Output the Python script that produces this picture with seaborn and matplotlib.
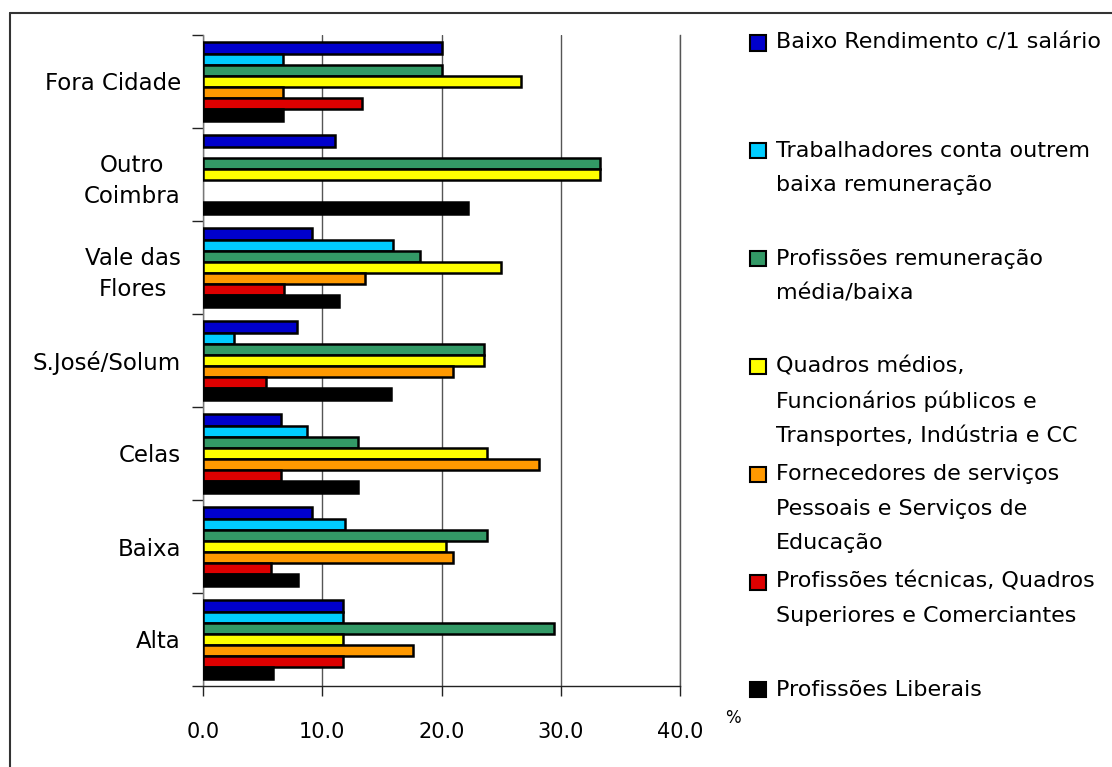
import numpy as np
import pandas as pd
import matplotlib
matplotlib.use("Agg")
import matplotlib.pyplot as plt
from matplotlib.patches import Rectangle
from matplotlib.lines import Line2D
import seaborn as sns

# Zones (top to bottom) and occupational groups
zones = ["Fora Cidade", "Outro Coimbra", "Vale das Flores", "S.José/Solum",
         "Celas", "Baixa", "Alta"]
zone_labels = ["Fora Cidade", "Outro\nCoimbra", "Vale das\nFlores", "S.José/Solum",
               "Celas", "Baixa", "Alta"]

groups = [
    "Baixo Rendimento c/1 salário",
    "Trabalhadores conta outrem\nbaixa remuneração",
    "Profissões remuneração\nmédia/baixa",
    "Quadros médios,\nFuncionários públicos e\nTransportes, Indústria e CC",
    "Fornecedores de serviços\nPessoais e Serviços de\nEducação",
    "Profissões técnicas, Quadros\nSuperiores e Comerciantes",
    "Profissões Liberais",
]

baixo_rendimento = [20.0, 11.1, 9.1, 7.9, 6.5, 9.1, 11.7]
trab_conta_outrem = [6.7, 0.0, 15.9, 2.6, 8.7, 11.9, 11.7]
remuneracao_media = [20.0, 33.3, 18.2, 23.6, 13.0, 23.8, 29.4]
quadros_medios = [26.7, 33.3, 25.0, 23.6, 23.8, 20.4, 11.7]
fornecedores = [6.7, 0.0, 13.6, 21.0, 28.2, 21.0, 17.6]
tecnicas = [13.3, 0.0, 6.8, 5.3, 6.5, 5.7, 11.7]
liberais = [6.7, 22.2, 11.4, 15.8, 13.0, 8.0, 5.9]

series = [baixo_rendimento, trab_conta_outrem, remuneracao_media,
          quadros_medios, fornecedores, tecnicas, liberais]

colors = ["#0000CC", "#00CCFF", "#339966", "#FFFF00", "#FF9900", "#DD0000", "#000000"]

x_ticks = [0, 10, 20, 30, 40]
x_ticklabels = ["0.0", "10.0", "20.0", "30.0", "40.0"]

rows = []
for g, vals in zip(groups, series):
    for z, v in zip(zones, vals):
        rows.append({"zona": z, "grupo": g, "pct": v})
df = pd.DataFrame(rows)
# empty cells are left without a bar
df["pct"] = df["pct"].replace(0.0, np.nan)

sns.set_theme(style="white")
plt.rcParams["font.family"] = ["DejaVu Sans"]
plt.rcParams["text.color"] = "black"
plt.rcParams["xtick.color"] = "black"
plt.rcParams["ytick.color"] = "black"
plt.rcParams["axes.labelcolor"] = "black"

W, H = 1112, 767
fig = plt.figure(figsize=(W / 100, H / 100), dpi=100)
ax = fig.add_axes([203 / W, 1 - 686 / H, 477 / W, 651 / H])

sns.barplot(data=df, x="pct", y="zona", hue="grupo", order=zones,
            hue_order=groups, palette=colors, orient="h", width=0.84,
            errorbar=None, edgecolor="black", linewidth=1.8, legend=False,
            saturation=1, ax=ax, zorder=3)

ax.set_xlim(0, 40)
ax.set_ylim(len(zones) - 0.5, -0.5)

# vertical grid
ax.set_axisbelow(True)
ax.xaxis.grid(True, color="#555555", linewidth=1.0)
ax.yaxis.grid(False)

ax.spines["top"].set_visible(False)
ax.spines["right"].set_color("#555555")
ax.spines["right"].set_linewidth(1.0)
ax.spines["left"].set_color("#777777")
ax.spines["left"].set_linewidth(1.0)
ax.spines["bottom"].set_color("#222222")
ax.spines["bottom"].set_linewidth(1.0)

ax.set_xticks(x_ticks)
ax.set_xticklabels(x_ticklabels, fontsize=15)
ax.tick_params(axis="x", direction="out", length=7, width=1, color="#222222",
               pad=19, bottom=True, labelcolor="black")

ax.set_yticks(range(len(zones)))
ax.set_yticklabels(zone_labels, fontsize=16.5, multialignment="center",
                   linespacing=1.45)
ax.tick_params(axis="y", which="major", length=0, pad=16, labelcolor="black")
ax.set_yticks(np.arange(-0.5, len(zones), 1.0), minor=True)
ax.tick_params(axis="y", which="minor", direction="out", length=8, width=1,
               color="#222222", left=True)

ax.set_xlabel("%", fontsize=12)
ax.xaxis.set_label_coords(1.11, -0.035)
ax.set_ylabel("")

# legend drawn beside the plot, one entry per group
entry_top = 43
entry_step = 107.8
line_step = 34.5
for i, (g, c) in enumerate(zip(groups, colors)):
    yc = entry_top + i * entry_step
    fig.add_artist(Rectangle((750 / W, 1 - (yc + 7.5) / H), 16 / W, 15 / H,
                             transform=fig.transFigure, facecolor=c,
                             edgecolor="black", linewidth=1.5))
    for j, line in enumerate(g.split("\n")):
        fig.text(776 / W, 1 - (yc + j * line_step) / H, line, fontsize=16,
                 va="center", ha="left", color="black")

# outer frame
fig.add_artist(Line2D([10 / W, 10 / W], [0, 1 - 13 / H], transform=fig.transFigure,
                      color="#333333", linewidth=1.5))
fig.add_artist(Line2D([10 / W, 1], [1 - 13 / H, 1 - 13 / H], transform=fig.transFigure,
                      color="#333333", linewidth=1.5))

fig.savefig("out.png", dpi=100)
